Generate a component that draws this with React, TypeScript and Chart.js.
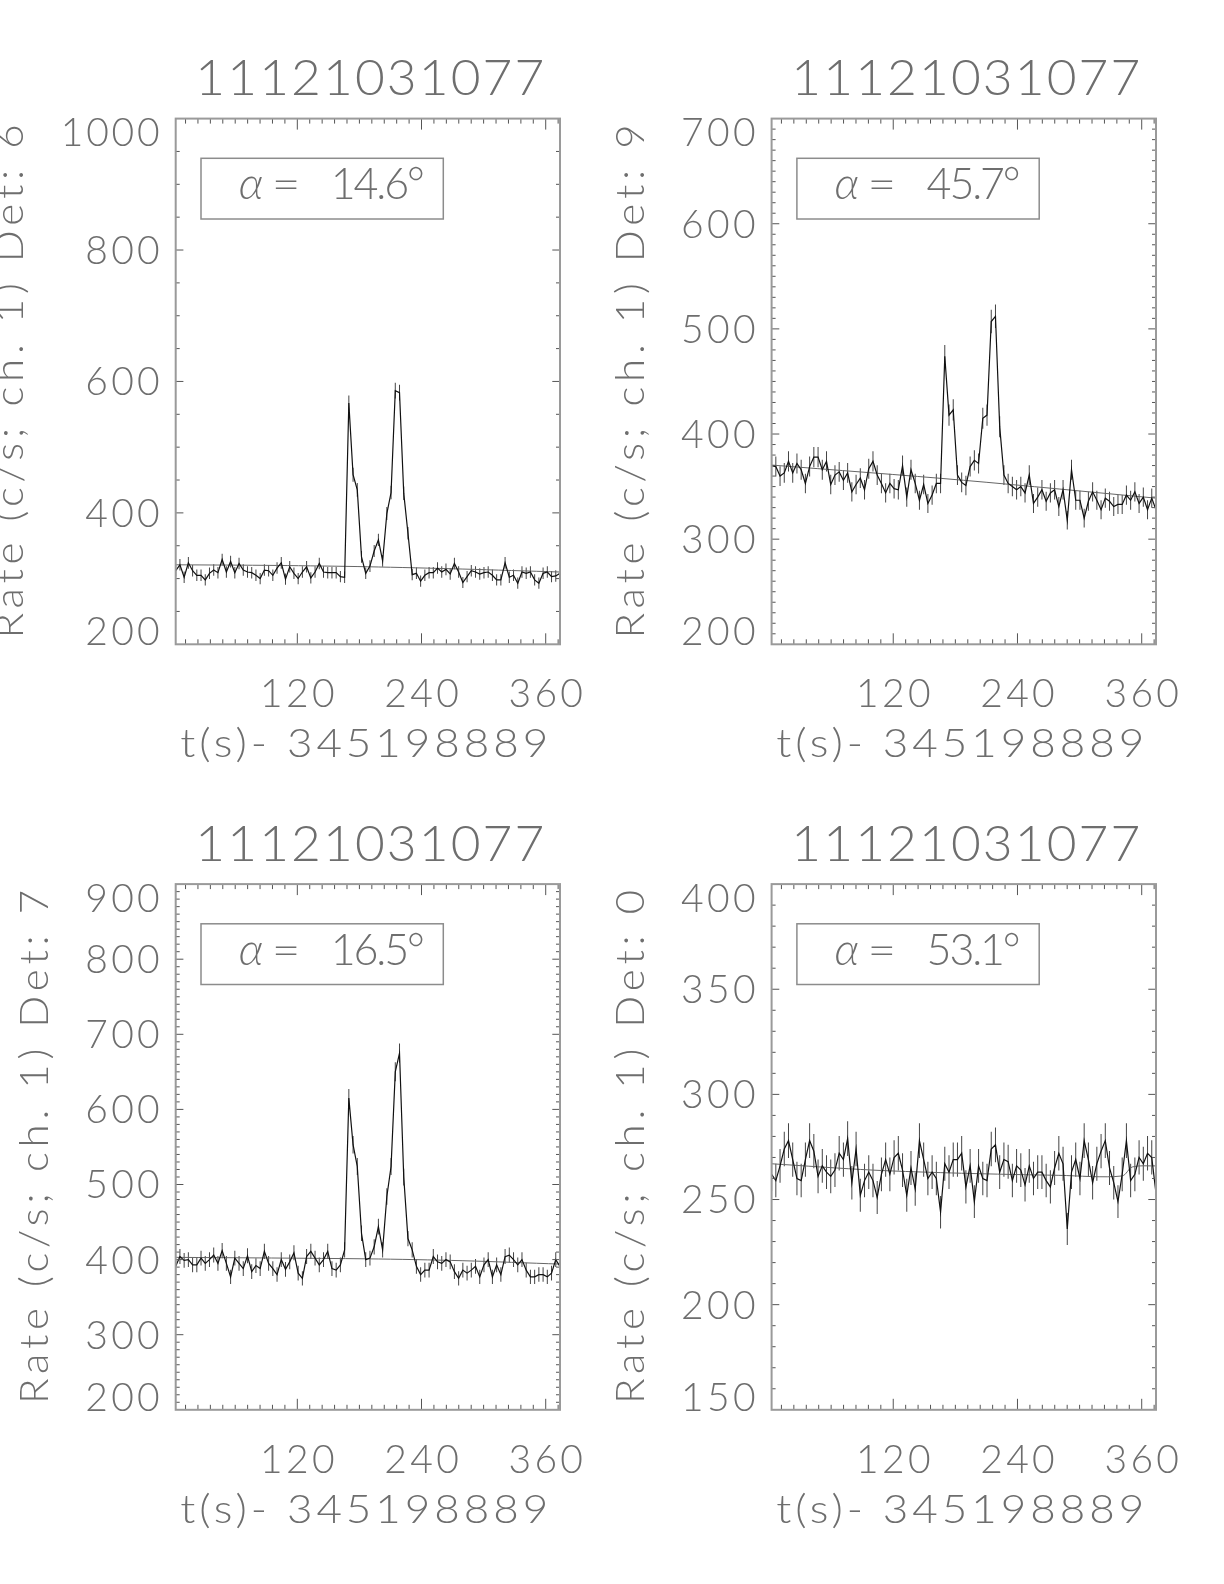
import React, { useEffect, useRef } from "react";
import { Chart, registerables } from "chart.js";

Chart.register(...registerables);

// ---------------- data ----------------
const BURST_ID = "11121031077";
const X_TITLE = "t(s)- 345198889";
const X_MAJOR_TICKS = [120, 240, 360];
const X_MINOR_STEP = 12;
const T_START = 2.5; // first bin time (s)
const BIN_S = 4.08; // bin width (s)
const X_MAX = 373.8;

// count rates (c/s) per 4.08 s bin, detectors 6, 9, 7, 0
const RATE_DET6 = [
  312, 321, 302, 324, 312, 305, 305, 298, 308, 313,
  309, 329, 310, 326, 309, 323, 313, 310, 309, 305,
  300, 313, 312, 305, 316, 324, 299, 318, 308, 300,
  310, 318, 301, 310, 323, 310, 309, 309, 309, 303,
  302, 567, 458, 435, 333, 308, 319, 342, 359, 327,
  399, 431, 586, 583, 430, 369, 306, 308, 296, 305,
  309, 309, 316, 310, 314, 307, 323, 310, 294, 303,
  312, 310, 307, 309, 310, 305, 298, 298, 324, 302,
  305, 293, 310, 308, 310, 298, 293, 308, 310, 303,
  304, 308,
];
const RATE_DET9 = [
  370, 369, 360, 363, 374, 363, 372, 366, 353, 369,
  378, 378, 366, 374, 352, 361, 364, 356, 363, 345,
  352, 358, 347, 367, 374, 361, 353, 344, 353, 348,
  347, 370, 340, 366, 353, 337, 352, 334, 342, 353,
  353, 474, 418, 423, 361, 354, 351, 369, 375, 372,
  415, 418, 507, 512, 407, 361, 353, 350, 347, 350,
  344, 361, 334, 340, 347, 336, 344, 347, 331, 347,
  318, 366, 337, 337, 320, 336, 345, 337, 328, 339,
  336, 331, 333, 333, 342, 337, 345, 334, 340, 328,
  339, 328,
];
const RATE_DET7 = [
  391, 404, 399, 400, 393, 393, 402, 395, 400, 406,
  395, 412, 395, 377, 402, 395, 388, 405, 384, 392,
  388, 411, 395, 388, 380, 400, 387, 397, 409, 382,
  375, 404, 411, 402, 393, 400, 411, 388, 386, 393,
  413, 615, 553, 524, 435, 400, 402, 417, 444, 413,
  484, 524, 650, 675, 510, 428, 413, 391, 380, 386,
  386, 404, 397, 395, 400, 397, 384, 375, 386, 382,
  386, 391, 377, 393, 400, 377, 393, 380, 404, 406,
  400, 393, 400, 386, 377, 377, 380, 380, 377, 382,
  400, 391,
];
const RATE_DET0 = [
  262, 259, 266, 274, 278, 269, 260, 259, 269, 278,
  273, 261, 266, 263, 261, 264, 272, 269, 279, 258,
  274, 252, 259, 263, 259, 251, 262, 269, 262, 270,
  272, 264, 252, 265, 255, 278, 269, 260, 263, 260,
  244, 267, 263, 269, 269, 272, 256, 266, 249, 266,
  260, 259, 274, 276, 263, 269, 268, 259, 266, 264,
  257, 266, 260, 263, 263, 259, 256, 265, 272, 267,
  236, 263, 269, 260, 278, 269, 258, 267, 273, 278,
  265, 258, 249, 262, 278, 259, 262, 270, 267, 272,
  270, 253,
];

// background fits (time, rate)
const FIT_T_DET6 = [2.5, 100, 188, 280, 373.8];
const FIT_DET6 = [321, 320, 318, 314.5, 310];
const FIT_T_DET9 = [2.5, 188, 373.8];
const FIT_DET9 = [370.5, 356, 339];
const FIT_T_DET7 = [2.5, 188, 280, 373.8];
const FIT_DET7 = [403, 401, 398.5, 394];
const FIT_T_DET0 = [2.5, 100, 186, 280, 341, 351, 373.8];
const FIT_DET0 = [267, 264, 262.5, 261.5, 261.2, 265.5, 266];

const ALPHA_DEG = ["14.6", "45.7", "16.5", "53.1"];
const DETECTORS = ["6", "9", "7", "0"];
const Y_RANGES = [
  [200, 1000],
  [200, 700],
  [200, 900],
  [150, 400],
];
const Y_MAJOR = [200, 100, 100, 50];
const Y_MINOR = [50, 10, 10, 10];

// ---------------- style ----------------
const FONT_FAMILY = '"Lato", "DejaVu Sans", sans-serif';
const FONT_WEIGHT = 300;
const TEXT_COLOR = "#6e6e6e";
const CAP = 0.7165;
const CANVAS_W = 612;
const CANVAS_H = 792;

type TextOpts = {
  size: number;
  width?: number;
  ls?: number;
  sx?: number;
  align?: "left" | "center" | "right";
  italic?: boolean;
  rotate?: number;
  color?: string;
};

function drawText(ctx: CanvasRenderingContext2D, text: string, x: number, y: number, o: TextOpts) {
  const sx = o.sx ?? 1;
  const c: any = ctx;
  ctx.save();
  ctx.font = `${o.italic ? "italic " : ""}${FONT_WEIGHT} ${o.size}px ${FONT_FAMILY}`;
  ctx.fillStyle = o.color ?? TEXT_COLOR;
  ctx.textAlign = "left";
  ctx.textBaseline = "alphabetic";
  c.letterSpacing = "0px";
  const n = Array.from(text).length;
  const natural = ctx.measureText(text).width;
  let ls = o.ls ?? 0;
  if (o.width != null && n > 1) ls = (o.width / sx - natural) / (n - 1);
  c.letterSpacing = `${ls}px`;
  const W = (natural + ls * (n - 1)) * sx;
  let dx = 0;
  if (o.align === "center") dx = -W / 2;
  else if (o.align === "right") dx = -W;
  ctx.translate(x, y);
  if (o.rotate) ctx.rotate(o.rotate);
  ctx.translate(dx, 0);
  ctx.scale(sx, 1);
  ctx.fillText(text, 0, 0);
  ctx.restore();
  return W;
}

type PanelDef = {
  rates: number[];
  fitT: number[];
  fitV: number[];
  yMin: number;
  yMax: number;
  yMajor: number;
  yMinor: number;
  det: string;
  alpha: string;
  left: number;
  top: number;
};

const PANELS: PanelDef[] = [
  { rates: RATE_DET6, fitT: FIT_T_DET6, fitV: FIT_DET6, yMin: Y_RANGES[0][0], yMax: Y_RANGES[0][1], yMajor: Y_MAJOR[0], yMinor: Y_MINOR[0], det: DETECTORS[0], alpha: ALPHA_DEG[0], left: 0, top: 0 },
  { rates: RATE_DET9, fitT: FIT_T_DET9, fitV: FIT_DET9, yMin: Y_RANGES[1][0], yMax: Y_RANGES[1][1], yMajor: Y_MAJOR[1], yMinor: Y_MINOR[1], det: DETECTORS[1], alpha: ALPHA_DEG[1], left: 612, top: 0 },
  { rates: RATE_DET7, fitT: FIT_T_DET7, fitV: FIT_DET7, yMin: Y_RANGES[2][0], yMax: Y_RANGES[2][1], yMajor: Y_MAJOR[2], yMinor: Y_MINOR[2], det: DETECTORS[2], alpha: ALPHA_DEG[2], left: 0, top: 792 },
  { rates: RATE_DET0, fitT: FIT_T_DET0, fitV: FIT_DET0, yMin: Y_RANGES[3][0], yMax: Y_RANGES[3][1], yMajor: Y_MAJOR[3], yMinor: Y_MINOR[3], det: DETECTORS[3], alpha: ALPHA_DEG[3], left: 612, top: 792 },
];

const TICK_SIZE = 39;

function framePlugin(p: PanelDef) {
  return {
    id: "idlFrame",
    afterDraw(chart: any) {
      const ctx: CanvasRenderingContext2D = chart.ctx;
      const { left, right, top, bottom } = chart.chartArea;
      const xs = chart.scales.x;
      const ys = chart.scales.y;
      const cx = (left + right) / 2;
      const cy = (top + bottom) / 2;
      ctx.save();

      // ticks
      ctx.strokeStyle = "#555";
      ctx.lineWidth = 1;
      ctx.beginPath();
      for (let v = X_MINOR_STEP; v <= X_MAX; v += X_MINOR_STEP) {
        if (v < T_START) continue;
        const px = xs.getPixelForValue(v);
        const len = v % 120 === 0 ? 11 : 5;
        ctx.moveTo(px, bottom);
        ctx.lineTo(px, bottom - len);
        ctx.moveTo(px, top);
        ctx.lineTo(px, top + len);
      }
      for (let v = p.yMin + p.yMinor; v < p.yMax; v += p.yMinor) {
        const py = ys.getPixelForValue(v);
        const len = v % p.yMajor === 0 ? 7.7 : 4;
        ctx.moveTo(left, py);
        ctx.lineTo(left + len, py);
        ctx.moveTo(right, py);
        ctx.lineTo(right - len, py);
      }
      ctx.stroke();

      // box
      ctx.strokeStyle = "#9a9a9a";
      ctx.lineWidth = 2;
      ctx.strokeRect(left, top, right - left, bottom - top);

      // y tick labels
      let maxChars = 0;
      const half = (TICK_SIZE * CAP) / 2;
      for (let v = p.yMin; v <= p.yMax; v += p.yMajor) {
        const label = String(v);
        maxChars = Math.max(maxChars, label.length);
        let py = ys.getPixelForValue(v);
        py = Math.min(Math.max(py, top + 13.5), bottom - 13);
        drawText(ctx, label, left - 16, py + half, {
          size: TICK_SIZE,
          width: 24.5 * label.length + 1,
          align: "right",
        });
      }
      // x tick labels
      for (const v of X_MAJOR_TICKS) {
        const label = String(v);
        drawText(ctx, label, xs.getPixelForValue(v), bottom + 62.7, {
          size: TICK_SIZE,
          width: 24.5 * label.length + 1,
          align: "center",
        });
      }
      // x title
      drawText(ctx, X_TITLE, cx - 3.6, bottom + 112.7, { size: 40, sx: 1.1, width: 368, align: "center" });
      // y title
      const yTitleX = left - (128 + 24.7 * (maxChars - 3));
      drawText(ctx, `Rate (c/s; ch. 1) Det: ${p.det}`, yTitleX, cy, {
        size: 40,
        sx: 1.05,
        width: 514,
        align: "center",
        rotate: -Math.PI / 2,
      });
      // title
      drawText(ctx, BURST_ID, cx + 2, top - 23.6, { size: 49, sx: 1.05, width: 349, align: "center" });

      // alpha box
      ctx.strokeStyle = "#8c8c8c";
      ctx.lineWidth = 1.5;
      ctx.strokeRect(left + 25.3, top + 39.7, 242.3, 60.7);
      const by = top + 80.5;
      drawText(ctx, "\u03b1", left + 63, by, { size: 43, italic: true, sx: 1.05 });
      drawText(ctx, "=", left + 96, by, { size: 43, sx: 1.15 });
      drawText(ctx, `${p.alpha}\u00b0`, left + 155, by, { size: 43, width: 94 });

      ctx.restore();
    },
  };
}

function PanelChart({ p }: { p: PanelDef }) {
  const ref = useRef<HTMLCanvasElement | null>(null);
  useEffect(() => {
    if (!ref.current) return;
    const times = p.rates.map((_, i) => T_START + i * BIN_S);
    const isRight = p.left > 0;
    const isBottom = p.top > 0;
    const padLeft = isRight ? 159.6 : 175.7;
    const padRight = isRight ? 68 : 52;
    const padTop = isBottom ? 92.1 : 118.6;
    const padBottom = isBottom ? 174.2 : 147.7;
    const chart = new Chart(ref.current, {
      type: "line",
      data: {
        datasets: [
          {
            type: "line",
            data: p.rates.map((r, i) => ({ x: times[i], y: r })),
            borderColor: "#111",
            borderWidth: 1.2,
            pointRadius: 0,
            tension: 0,
            order: 0,
          } as any,
          {
            type: "line",
            data: p.fitV.map((v, i) => ({ x: p.fitT[i], y: v })),
            borderColor: "#666",
            borderWidth: 1,
            pointRadius: 0,
            tension: 0.3,
            order: 1,
          } as any,
          {
            type: "bar",
            data: p.rates.map((r, i) => {
              const e = Math.sqrt(r / BIN_S);
              return { x: times[i], y: [r - e, r + e] };
            }),
            backgroundColor: "#444",
            borderWidth: 0,
            barThickness: 1,
            inflateAmount: 0,
            borderSkipped: false,
            order: 2,
          } as any,
        ],
      },
      options: {
        responsive: false,
        maintainAspectRatio: false,
        animation: false,
        devicePixelRatio: 1,
        events: [],
        layout: { padding: { left: padLeft, right: padRight, top: padTop, bottom: padBottom } },
        scales: {
          x: { type: "linear", min: T_START, max: X_MAX, display: false, offset: false },
          y: { type: "linear", min: p.yMin, max: p.yMax, display: false },
        },
        plugins: { legend: { display: false }, tooltip: { enabled: false }, title: { display: false } },
      } as any,
      plugins: [framePlugin(p)],
    });
    return () => chart.destroy();
  }, [p]);
  return (
    <canvas
      ref={ref}
      width={CANVAS_W}
      height={CANVAS_H}
      style={{ position: "absolute", left: p.left, top: p.top, width: CANVAS_W, height: CANVAS_H, display: "block" }}
    />
  );
}

export default function App() {
  return (
    <div style={{ position: "absolute", left: 0, top: 0, width: 1224, height: 1584, background: "#fff", overflow: "hidden" }}>
      {PANELS.map((p, i) => (
        <PanelChart key={i} p={p} />
      ))}
    </div>
  );
}
